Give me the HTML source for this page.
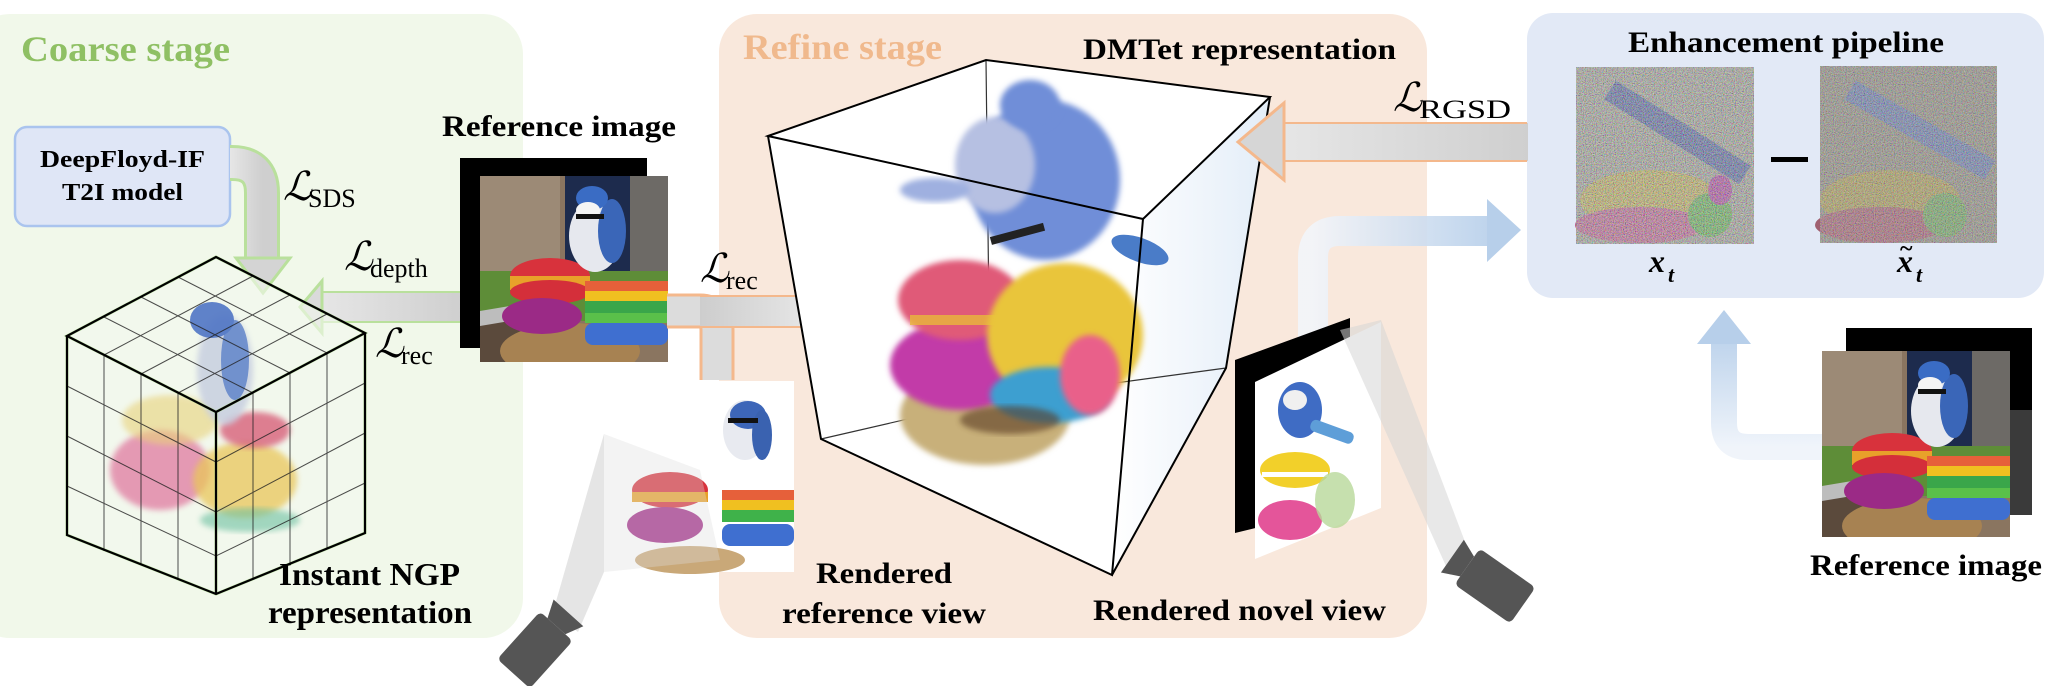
<!DOCTYPE html>
<html><head><meta charset="utf-8"><style>
html,body{margin:0;padding:0;background:#fff}
svg{display:block}
text{font-family:"Liberation Serif","DejaVu Serif",serif}
</style></head><body>
<svg width="2060" height="686" viewBox="0 0 2060 686" xmlns="http://www.w3.org/2000/svg">
<defs>
  <filter id="noise" x="0" y="0" width="100%" height="100%">
    <feTurbulence type="fractalNoise" baseFrequency="0.9" numOctaves="2" seed="3"/>
    <feColorMatrix type="matrix" values="1.8 0 0 0 -0.4  0 1.8 0 0 -0.4  0 0 1.8 0 -0.4  0 0 0 0 0.55"/>
  </filter>
  <filter id="blur3"><feGaussianBlur stdDeviation="3"/></filter>
  <linearGradient id="grayH" x1="0" x2="1"><stop offset="0" stop-color="#e6e6e6"/><stop offset="1" stop-color="#cfcfcf"/></linearGradient>
  <linearGradient id="grayH2" x1="1" x2="0"><stop offset="0" stop-color="#eeeeee"/><stop offset="1" stop-color="#cdcdcd"/></linearGradient>
  <linearGradient id="blueH" x1="0" x2="1"><stop offset="0" stop-color="#f2f5fa"/><stop offset="1" stop-color="#b7cfea"/></linearGradient>
  <linearGradient id="blueV" x1="0" y1="1" x2="0" y2="0"><stop offset="0" stop-color="#eef3fa"/><stop offset="1" stop-color="#b7cfea"/></linearGradient>
  <linearGradient id="sideFace" x1="0" x2="1"><stop offset="0" stop-color="#ffffff"/><stop offset="1" stop-color="#e3edf8"/></linearGradient>
  <clipPath id="refclip"><rect x="0" y="0" width="188" height="186"/></clipPath>
  <g id="ref">
    <g clip-path="url(#refclip)">
      <rect x="0" y="0" width="188" height="186" fill="#8a7560"/>
      <rect x="0" y="0" width="80" height="110" fill="#9c8a76"/>
      <rect x="85" y="0" width="103" height="110" fill="#1d2b4d"/>
      <rect x="150" y="0" width="38" height="110" fill="#6d6a66"/>
      <rect x="0" y="95" width="188" height="50" fill="#5e8d38"/>
      <rect x="0" y="135" width="60" height="51" fill="#5b4a3c"/>
      <polygon points="0,135 60,125 60,140 0,150" fill="#bdbdbd"/>
      <ellipse cx="90" cy="175" rx="70" ry="28" fill="#a78252"/>
      <ellipse cx="70" cy="100" rx="40" ry="18" fill="#d8323c"/>
      <rect x="30" y="100" width="80" height="14" fill="#e8a12a"/>
      <ellipse cx="70" cy="116" rx="40" ry="12" fill="#d42f3a"/>
      <ellipse cx="62" cy="140" rx="40" ry="18" fill="#9b2a86"/>
      <rect x="105" y="105" width="83" height="10" fill="#e6603a"/>
      <rect x="105" y="115" width="83" height="10" fill="#f0c020"/>
      <rect x="105" y="125" width="83" height="12" fill="#3aa64a"/>
      <rect x="105" y="137" width="83" height="10" fill="#5ac04a"/>
      <rect x="105" y="147" width="83" height="22" rx="8" fill="#3f6fd0"/>
      <ellipse cx="115" cy="60" rx="26" ry="36" fill="#e6e8ee"/>
      <ellipse cx="132" cy="55" rx="14" ry="32" fill="#3a66b8"/>
      <ellipse cx="112" cy="22" rx="16" ry="12" fill="#3a6cc4"/>
      <ellipse cx="108" cy="34" rx="12" ry="8" fill="#f4f4f4"/>
      <rect x="96" y="38" width="28" height="5" fill="#111"/>
    </g>
  </g>
</defs>

<rect x="-30" y="14" width="553" height="624" rx="40" fill="#f1f8ea"/>
<rect x="719" y="14" width="708" height="624" rx="38" fill="#f9e8dc"/>
<rect x="1527" y="13" width="517" height="285" rx="26" fill="#e2e9f6"/>

<text x="21" y="61" font-size="36" font-weight="bold" fill="#8fc064" textLength="209" lengthAdjust="spacingAndGlyphs">Coarse stage</text>
<text x="743" y="59" font-size="36" font-weight="bold" fill="#f0b98d" textLength="199" lengthAdjust="spacingAndGlyphs">Refine stage</text>
<text x="1083" y="59" font-size="30" font-weight="bold" fill="#000" textLength="313" lengthAdjust="spacingAndGlyphs">DMTet representation</text>
<text x="1628" y="52" font-size="30" font-weight="bold" fill="#000" textLength="316" lengthAdjust="spacingAndGlyphs">Enhancement pipeline</text>

<rect x="15" y="127" width="215" height="99" rx="12" fill="#dfe6f6" stroke="#aac4ee" stroke-width="2.5"/>
<text x="40" y="167" font-size="24" font-weight="bold" textLength="165" lengthAdjust="spacingAndGlyphs">DeepFloyd-IF</text>
<text x="62" y="200" font-size="24" font-weight="bold" textLength="121" lengthAdjust="spacingAndGlyphs">T2I model</text>

<path d="M230,163 H232 Q262,163 262,193 V262" fill="none" stroke="#b9e09c" stroke-width="36" stroke-linejoin="round"/>
<path d="M230,163 H232 Q262,163 262,193 V262" fill="none" stroke="url(#grayH)" stroke-width="30"/>
<polygon points="236,258 290,258 263,293" fill="#d4d4d4" stroke="#b9e09c" stroke-width="3"/>
<rect x="320" y="292" width="142" height="30" fill="url(#grayH)" stroke="#b9e09c" stroke-width="2"/>
<polygon points="322,281 322,333 300,307" fill="#dadada" stroke="#b9e09c" stroke-width="3"/>

<text x="283" y="200" font-size="40" font-style="italic" fill="#000" font-family="DejaVu Serif, serif">ℒ</text>
<text x="308" y="207" font-size="26">SDS</text>
<text x="344" y="270" font-size="40" font-style="italic" font-family="DejaVu Serif, serif">ℒ</text>
<text x="370" y="277" font-size="26">depth</text>
<text x="375" y="357" font-size="40" font-style="italic" font-family="DejaVu Serif, serif">ℒ</text>
<text x="401" y="364" font-size="26">rec</text>

<text x="442" y="136" font-size="30" font-weight="bold" textLength="234" lengthAdjust="spacingAndGlyphs">Reference image</text>
<rect x="460" y="158" width="187" height="190" fill="#000"/>
<use href="#ref" x="480" y="176"/>

<g>
  <polygon points="216,257 365,333 365,533 216,594 67,535 67,336" fill="#f4f9ef" opacity="0.6"/>
  <ellipse cx="160" cy="470" rx="50" ry="40" fill="#e07aa0" opacity="0.75" filter="url(#blur3)"/>
  <ellipse cx="245" cy="480" rx="52" ry="38" fill="#e9c65a" opacity="0.75" filter="url(#blur3)"/>
  <ellipse cx="170" cy="420" rx="48" ry="25" fill="#e8d27a" opacity="0.6" filter="url(#blur3)"/>
  <ellipse cx="255" cy="430" rx="35" ry="18" fill="#d8607a" opacity="0.8" filter="url(#blur3)"/>
  <ellipse cx="250" cy="520" rx="50" ry="12" fill="#6cc0a0" opacity="0.6" filter="url(#blur3)"/>
  <ellipse cx="225" cy="370" rx="28" ry="55" fill="#c7cfe0" opacity="0.85" filter="url(#blur3)"/>
  <ellipse cx="212" cy="320" rx="22" ry="18" fill="#4f74c4" opacity="0.9"/>
  <ellipse cx="235" cy="360" rx="14" ry="40" fill="#5a80c8" opacity="0.8"/>
  <g stroke="#a6d985" stroke-width="3" fill="none" opacity="0.7">
    <polygon points="216,257 365,333 216,412 67,336"/>
    <path d="M67,336 V535 L216,594 L365,533 V333 M216,412 V594"/>
  </g>
  <g stroke="#222" stroke-width="1" fill="none" opacity="0.8">
    <path d="M104,317 L253,393 M141,297 L290,373 M178,277 L327,353"/>
    <path d="M104,355 L253,276 M141,374 L290,295 M178,393 L327,314"/>
    <path d="M67,386 L216,462 L365,383 M67,436 L216,512 L365,433 M67,486 L216,556 L365,483"/>
    <path d="M104,355 V551 M141,374 V565 M178,393 V580 M253,393 V579 M290,373 V564 M327,353 V548"/>
  </g>
  <g stroke="#000" stroke-width="2.2" fill="none">
    <polygon points="216,257 365,333 216,412 67,336"/>
    <path d="M67,336 V535 L216,594 L365,533 V333 M216,412 V594"/>
  </g>
</g>
<text x="279" y="585" font-size="32" font-weight="bold" textLength="181" lengthAdjust="spacingAndGlyphs">Instant NGP</text>
<text x="268" y="623" font-size="32" font-weight="bold" textLength="204" lengthAdjust="spacingAndGlyphs">representation</text>

<path d="M667,311 H700 Q717,311 717,330 V380" fill="none" stroke="#f4b88c" stroke-width="35"/>
<path d="M667,311 H700 Q717,311 717,330 V380" fill="none" stroke="#dcdcdc" stroke-width="29"/>
<rect x="700" y="297" width="143" height="29" fill="url(#grayH2)"/>
<path d="M700,296 H841" stroke="#f4b88c" stroke-width="2"/>
<path d="M700,327 H841" stroke="#f4b88c" stroke-width="2"/>
<polygon points="841,276 841,342 874,309" fill="#d8d8d8" stroke="#f4b88c" stroke-width="3"/>
<text x="700" y="282" font-size="40" font-style="italic" font-family="DejaVu Serif, serif">ℒ</text>
<text x="726" y="289" font-size="26">rec</text>

<rect x="604" y="381" width="190" height="191" fill="#fff"/>
<g>
  <ellipse cx="745" cy="430" rx="22" ry="30" fill="#e8eaf0"/>
  <ellipse cx="748" cy="415" rx="18" ry="14" fill="#3d66b8"/>
  <ellipse cx="762" cy="435" rx="10" ry="25" fill="#3a62b0"/>
  <rect x="728" y="418" width="30" height="5" fill="#111"/>
  <ellipse cx="670" cy="490" rx="38" ry="18" fill="#d8323c"/>
  <rect x="632" y="492" width="76" height="10" fill="#e8a12a"/>
  <ellipse cx="665" cy="525" rx="38" ry="18" fill="#a22a88"/>
  <rect x="722" y="490" width="72" height="10" fill="#e6603a"/>
  <rect x="722" y="500" width="72" height="10" fill="#f0c020"/>
  <rect x="722" y="510" width="72" height="12" fill="#3fb24a"/>
  <rect x="722" y="524" width="72" height="22" rx="8" fill="#3f6fd0"/>
  <ellipse cx="690" cy="560" rx="55" ry="14" fill="#c9a878"/>
</g>
<polygon points="553,612 604,434 604,572 578,632" fill="#cfcfcf" opacity="0.55"/>
<polygon points="604,434 700,470 720,560 604,572" fill="#ddd" opacity="0.35"/>
<g transform="translate(535,650) rotate(-48)">
  <rect x="-32" y="-22" width="64" height="44" rx="5" fill="#555"/>
  <polygon points="32,-12 50,-20 50,20 32,12" fill="#555"/>
</g>
<text x="816" y="583" font-size="30" font-weight="bold" textLength="136" lengthAdjust="spacingAndGlyphs">Rendered</text>
<text x="782" y="623" font-size="30" font-weight="bold" textLength="204" lengthAdjust="spacingAndGlyphs">reference view</text>

<polygon points="768,136 986,60 1270,97 1226,368 1112,575 821,439" fill="#fff"/>
<polygon points="1143,219 1270,97 1226,368 1112,575" fill="url(#sideFace)"/>
<g stroke="#333" stroke-width="1.2" fill="none">
  <path d="M986,60 L990,400 M990,400 L821,439 M990,400 L1226,368"/>
</g>
<g>
  <ellipse cx="985" cy="415" rx="85" ry="50" fill="#c8b07a" filter="url(#blur3)"/>
  <ellipse cx="960" cy="365" rx="70" ry="45" fill="#c23aa8" filter="url(#blur3)"/>
  <ellipse cx="960" cy="300" rx="62" ry="40" fill="#e05a78" filter="url(#blur3)"/>
  <rect x="910" y="315" width="100" height="10" fill="#e8b83a" opacity="0.8"/>
  <ellipse cx="1065" cy="335" rx="78" ry="72" fill="#e9c53a" filter="url(#blur3)"/>
  <ellipse cx="1050" cy="395" rx="60" ry="28" fill="#3c9fd0" filter="url(#blur3)"/>
  <ellipse cx="1090" cy="375" rx="30" ry="40" fill="#e9608a" filter="url(#blur3)"/>
  <ellipse cx="1010" cy="420" rx="50" ry="14" fill="#5a3a20" opacity="0.6" filter="url(#blur3)"/>
  <ellipse cx="1045" cy="180" rx="75" ry="80" fill="#6f8ed8" filter="url(#blur3)"/>
  <ellipse cx="995" cy="165" rx="40" ry="48" fill="#b6c0e2" filter="url(#blur3)"/>
  <ellipse cx="1030" cy="105" rx="30" ry="25" fill="#6f8ed8" filter="url(#blur3)"/>
  <ellipse cx="935" cy="190" rx="35" ry="12" fill="#9fb0e0" filter="url(#blur3)"/>
  <rect x="990" y="230" width="55" height="8" fill="#222" transform="rotate(-15 1017 234)"/>
  <ellipse cx="1140" cy="250" rx="30" ry="12" fill="#4a7cc8" transform="rotate(20 1140 250)"/>
</g>
<g stroke="#000" stroke-width="2" fill="none">
  <polygon points="768,136 986,60 1270,97 1143,219"/>
  <path d="M768,136 L821,439 L1112,575 L1143,219 M1270,97 L1226,368 L1112,575"/>
</g>

<rect x="1282" y="123" width="246" height="38" fill="url(#grayH)"/>
<path d="M1282,123 H1527 M1282,161 H1527" stroke="#f4b88c" stroke-width="2"/>
<polygon points="1284,103 1284,180 1238,142" fill="#d6d6d6" stroke="#f4b88c" stroke-width="3"/>
<text x="1393" y="111" font-size="40" font-style="italic" font-family="DejaVu Serif, serif">ℒ</text>
<text x="1419" y="118" font-size="26" textLength="92" lengthAdjust="spacingAndGlyphs">RGSD</text>

<path d="M1313,370 V258 Q1313,231 1340,231 H1490" fill="none" stroke="url(#blueH)" stroke-width="30" opacity="0.9"/>
<polygon points="1487,199 1487,262 1521,230" fill="#b7cfea"/>

<polygon points="1235,360 1350,318 1350,505 1235,533" fill="#000"/>
<polygon points="1255,382 1381,322 1381,508 1255,559" fill="#fff"/>
<g>
  <ellipse cx="1300" cy="410" rx="22" ry="28" fill="#3f6cc4"/>
  <ellipse cx="1295" cy="400" rx="12" ry="10" fill="#f0f0f0"/>
  <rect x="1310" y="425" width="45" height="12" rx="5" fill="#5e9ed8" transform="rotate(20 1330 430)"/>
  <ellipse cx="1295" cy="470" rx="35" ry="18" fill="#f2d02a"/>
  <rect x="1262" y="472" width="66" height="5" fill="#fff"/>
  <ellipse cx="1290" cy="520" rx="32" ry="20" fill="#e4559a"/>
  <ellipse cx="1335" cy="500" rx="20" ry="28" fill="#b8d89a" opacity="0.8"/>
</g>
<polygon points="1340,330 1381,320 1470,555 1450,575" fill="#d6d6d6" opacity="0.55"/>
<g transform="translate(1495,586) rotate(35)">
  <rect x="-34" y="-22" width="68" height="44" rx="5" fill="#555"/>
  <polygon points="-34,-12 -52,-20 -52,20 -34,12" fill="#555"/>
</g>
<text x="1093" y="620" font-size="30" font-weight="bold" textLength="293" lengthAdjust="spacingAndGlyphs">Rendered novel view</text>

<g>
  <rect x="1576" y="67" width="178" height="177" fill="#9a9a90"/>
  <ellipse cx="1650" cy="200" rx="70" ry="30" fill="#b8a850"/>
  <ellipse cx="1640" cy="225" rx="65" ry="18" fill="#b85888"/>
  <ellipse cx="1710" cy="215" rx="22" ry="22" fill="#58a848"/>
  <ellipse cx="1720" cy="190" rx="12" ry="15" fill="#a83898"/>
  <path d="M1610,90 L1745,175" stroke="#4a5a98" stroke-width="22"/>
  <rect x="1576" y="67" width="178" height="177" filter="url(#noise)"/>
</g>
<g>
  <rect x="1820" y="66" width="177" height="177" fill="#8e8a80"/>
  <ellipse cx="1890" cy="200" rx="70" ry="30" fill="#a69858"/>
  <ellipse cx="1880" cy="225" rx="65" ry="18" fill="#a06070"/>
  <ellipse cx="1945" cy="215" rx="22" ry="22" fill="#70a060"/>
  <path d="M1850,90 L1990,170" stroke="#6a7aa8" stroke-width="22"/>
  <rect x="1820" y="66" width="177" height="177" filter="url(#noise)" opacity="0.8"/>
</g>
<rect x="1771" y="157" width="37" height="5" fill="#000"/>
<text x="1649" y="272" font-size="32" font-weight="bold" font-style="italic">x</text>
<text x="1668" y="282" font-size="22" font-weight="bold" font-style="italic">t</text>
<text x="1897" y="272" font-size="32" font-weight="bold" font-style="italic">x</text>
<text x="1900" y="256" font-size="24" font-weight="bold">~</text>
<text x="1916" y="282" font-size="22" font-weight="bold" font-style="italic">t</text>

<path d="M1822,447 H1748 Q1724,447 1724,423 V340" fill="none" stroke="url(#blueV)" stroke-width="26" opacity="0.9"/>
<polygon points="1697,344 1751,344 1724,310" fill="#b7cfea"/>

<rect x="1846" y="328" width="186" height="187" fill="#000"/>
<rect x="1990" y="410" width="42" height="105" fill="#3a3a3a"/>
<use href="#ref" x="1822" y="351"/>
<text x="1810" y="575" font-size="30" font-weight="bold" textLength="232" lengthAdjust="spacingAndGlyphs">Reference image</text>
</svg>
</body></html>
